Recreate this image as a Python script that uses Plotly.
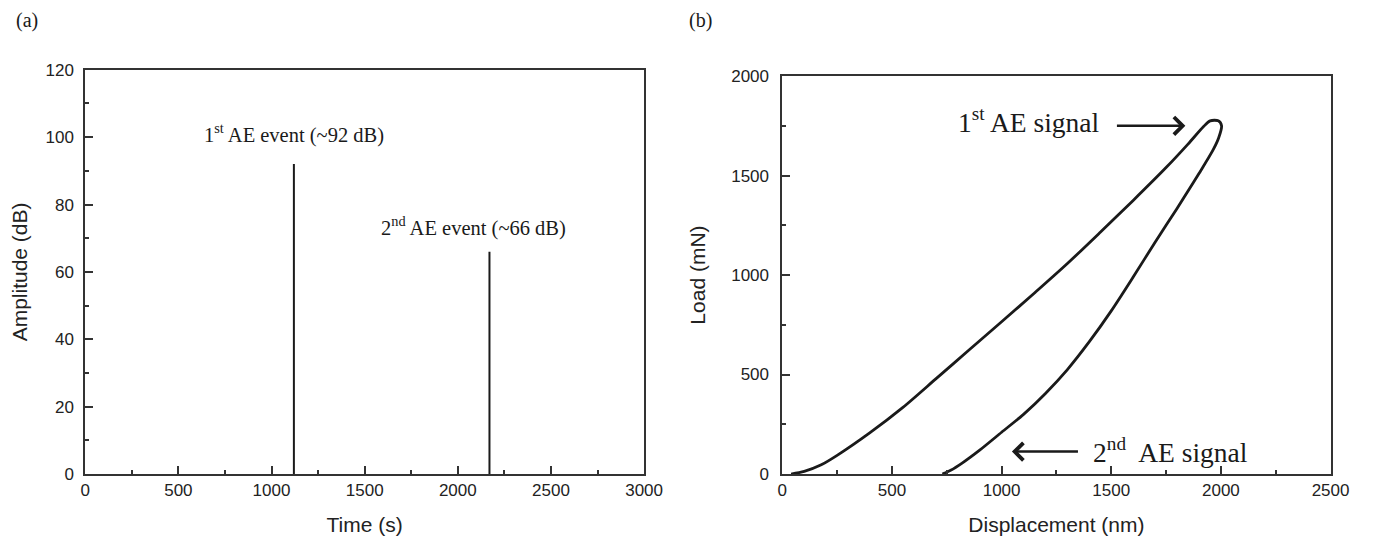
import plotly.graph_objects as go

# (a) acoustic emission events: time of each event and its peak amplitude
ae_time_s = [1120, 2170]
ae_amplitude_db = [92, 66]

# (b) nanoindentation load-displacement curve
load_disp_nm = [40, 100, 175, 250, 400, 550, 700, 850, 1000, 1150, 1300, 1450,
                1600, 1750, 1850, 1920, 1951, 1988]
load_mn = [0, 13, 45, 94, 208, 335, 478, 622, 765, 910, 1058, 1215,
           1375, 1540, 1658, 1745, 1775, 1775]
unload_disp_nm = [1988, 2003, 1990, 1965, 1900, 1800, 1700, 1600, 1500, 1400,
                  1300, 1200, 1100, 1000, 900, 820, 770, 740, 730]
unload_mn = [1775, 1750, 1690, 1630, 1510, 1335, 1165, 990, 820, 665,
             525, 405, 300, 210, 120, 55, 20, 5, 0]

# event labels
ae_event_labels = ["1<sup>st</sup> AE event (~92 dB)", "2<sup>nd</sup> AE event (~66 dB)"]
ae_event_label_pos = [(1120, 101), (2083, 73.5)]
signal_labels = ["1<sup>st</sup> AE signal", "2<sup>nd</sup>  AE signal"]
signal_label_pos = [(1127, 1775), (1771, 118)]
signal_arrows = [((1519, 1750), (1838, 1750)), ((1355, 113), (1047, 113))]

SERIF = "Liberation Serif, Times New Roman, serif"
SANS = "Liberation Sans, Arial, sans-serif"
INK = "#1a1a1a"

fig = go.Figure()

# vertical spikes for each AE event
spike_x, spike_y = [], []
for t, a in zip(ae_time_s, ae_amplitude_db):
    spike_x += [t, t, None]
    spike_y += [0, a, None]
fig.add_trace(go.Scatter(x=spike_x, y=spike_y, mode="lines",
                         line=dict(color=INK, width=2),
                         xaxis="x", yaxis="y", showlegend=False,
                         hoverinfo="skip"))

# loading + unloading branches
fig.add_trace(go.Scatter(x=load_disp_nm + unload_disp_nm[1:],
                         y=load_mn + unload_mn[1:], mode="lines",
                         line=dict(color=INK, width=2.8, shape="spline", smoothing=0.8),
                         xaxis="x2", yaxis="y2", showlegend=False,
                         hoverinfo="skip"))

axis_common = dict(
    showline=True, linecolor="#333333", linewidth=1.8, mirror=True,
    ticks="inside", ticklen=8, tickwidth=1.5, tickcolor="#333333",
    showgrid=False, zeroline=False,
    tickfont=dict(family=SANS, size=17, color="#222222"),
    title_font=dict(family=SANS, size=21, color="#222222"),
)
minor = dict(ticks="inside", ticklen=4, tickwidth=1.5, tickcolor="#333333", showgrid=False)

fig.update_layout(
    width=1382, height=540,
    margin=dict(l=0, r=0, t=0, b=0),
    paper_bgcolor="white", plot_bgcolor="white",
    xaxis=dict(domain=[0.0591, 0.4706], range=[0, 3000], dtick=500, tick0=0,
               minor=dict(dtick=250, **minor), anchor="y",
               title=dict(text="Time (s)", standoff=18), **axis_common),
    yaxis=dict(domain=[0.1074, 0.8833], range=[0, 120], dtick=20, tick0=0,
               minor=dict(dtick=10, **minor), anchor="x", ticklabelstandoff=6,
               title=dict(text="Amplitude (dB)", standoff=12), **axis_common),
    xaxis2=dict(domain=[0.5724, 0.9761], range=[0, 2500], dtick=500, tick0=0,
                minor=dict(dtick=250, **minor), anchor="y2",
                title=dict(text="Displacement (nm)", standoff=18), **axis_common),
    yaxis2=dict(domain=[0.1074, 0.8713], range=[0, 2000], dtick=500, tick0=0,
                minor=dict(dtick=250, **minor), anchor="x2", ticklabelstandoff=8,
                title=dict(text="Load (mN)", standoff=20), **axis_common),
)

annotations = []
# panel letters
annotations.append(dict(text="(a)", x=0.0065, y=0.978, xref="paper", yref="paper",
                        xanchor="left", yanchor="middle", showarrow=False,
                        font=dict(family=SERIF, size=20, color=INK)))
annotations.append(dict(text="(b)", x=0.5025, y=0.978, xref="paper", yref="paper",
                        xanchor="left", yanchor="middle", showarrow=False,
                        font=dict(family=SERIF, size=20, color=INK)))

for txt, (x, y) in zip(ae_event_labels, ae_event_label_pos):
    annotations.append(dict(text=txt, x=x, y=y, xref="x", yref="y",
                            xanchor="center", yanchor="middle", showarrow=False,
                            font=dict(family=SERIF, size=20.5, color=INK)))

for txt, (x, y) in zip(signal_labels, signal_label_pos):
    annotations.append(dict(text=txt, x=x, y=y, xref="x2", yref="y2",
                            xanchor="center", yanchor="middle", showarrow=False,
                            font=dict(family=SERIF, size=27.5, color=INK)))

for (tail, head) in signal_arrows:
    annotations.append(dict(text="", x=head[0], y=head[1], ax=tail[0], ay=tail[1],
                            xref="x2", yref="y2", axref="x2", ayref="y2",
                            showarrow=True, arrowhead=4, arrowsize=1.3,
                            arrowwidth=2.6, arrowcolor=INK))

fig.update_layout(annotations=annotations)

fig.write_html("out.html")
